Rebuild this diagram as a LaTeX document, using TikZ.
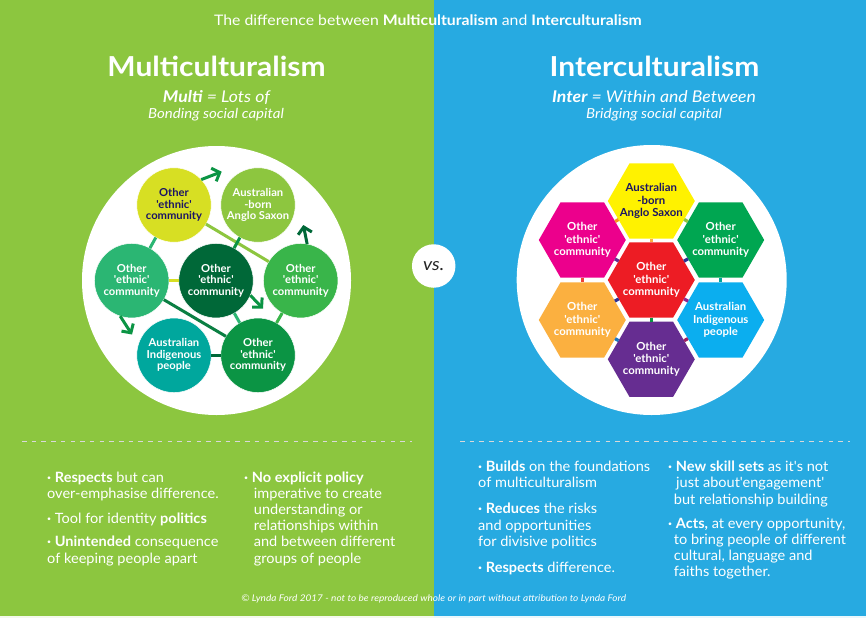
\documentclass[tikz,border=0pt]{standalone}
\usepackage{fontspec}
\usetikzlibrary{shapes.geometric,arrows.meta}
\newfontfamily\lato[FakeStretch=1.09]{Lato}
\newfontfamily\latob[FakeStretch=1.024]{Lato}
\definecolor{bggreen}{HTML}{8CC63F}
\definecolor{bgblue}{HTML}{27AAE1}
\definecolor{navytext}{HTML}{1B1464}
\definecolor{cyellow}{HTML}{D7DF23}
\definecolor{colive}{HTML}{8DC63F}
\definecolor{cteal}{HTML}{2BB673}
\definecolor{cdark}{HTML}{006838}
\definecolor{cmid}{HTML}{39B54A}
\definecolor{ccyan}{HTML}{00A79D}
\definecolor{cgreen}{HTML}{0B9444}
\definecolor{clong}{HTML}{0B7F43}
\definecolor{hyellow}{HTML}{FFF200}
\definecolor{hmagenta}{HTML}{EC008C}
\definecolor{hgreen}{HTML}{00A651}
\definecolor{hred}{HTML}{ED1C24}
\definecolor{horange}{HTML}{FBB040}
\definecolor{hblue}{HTML}{0BAEEF}
\definecolor{hpurple}{HTML}{662D91}
\definecolor{lorange}{HTML}{F7941D}
\definecolor{lnavy}{HTML}{2E3192}
\definecolor{lred}{HTML}{EF4136}
\definecolor{lviolet}{HTML}{92278F}
\definecolor{lblue}{HTML}{1C75BC}
\definecolor{lwine}{HTML}{9E1F63}
\tikzset{
  x=1pt,y=-1pt,
  every node/.append style={font=\lato},
  comm/.style={circle,draw=white,line width=.5pt,fill=#1,minimum size=74.5pt,inner sep=0pt,outer sep=0pt,text=white,align=center,font=\latob\bfseries\fontsize{10.95}{11.5}\selectfont},
  hexa/.style={regular polygon,regular polygon sides=6,fill=#1,minimum size=87pt,inner sep=0pt,outer sep=0pt},
  hextext/.style={text=white,inner sep=0pt,align=center,font=\latob\bfseries\fontsize{11.1}{12.4}\selectfont},
  link/.style={draw=#1,line width=3pt},
  hlink/.style={draw=#1,line width=3.2pt},
  arrowlink/.style={draw=#1,line width=3pt,-{Straight Barb[length=6.5pt,width=14pt,line width=3pt]}},
  body/.style={text=white,anchor=base west,inner sep=0pt,font=\latob\fontsize{14.2}{16.1}\selectfont},
  bigtitle/.style={text=white,inner sep=0pt,font=\lato\bfseries\fontsize{27.5}{30}\selectfont},
  subone/.style={text=white,inner sep=0pt,font=\lato\itshape\fontsize{16.2}{18}\selectfont},
  subtwo/.style={text=white,inner sep=0pt,font=\lato\itshape\fontsize{13.8}{15}\selectfont},
  rulerline/.style={draw=white!85!black,line width=.7pt,dash pattern=on 4.5pt off 5.2pt},
}
\begin{document}
\begin{tikzpicture}
\useasboundingbox (0,0) rectangle (866,618);
\fill[bggreen] (0,0) rectangle (433.5,615.5);
\fill[bgblue] (433.5,0) rectangle (866,615.5);
\fill[white!90!bggreen] (0,615.5) rectangle (433.5,618);
\fill[white!90!bgblue] (433.5,615.5) rectangle (866,618);

\node[text=white,inner sep=0pt,font=\lato\fontsize{14.5}{16}\selectfont] (head) at (428,20) {The difference between \textbf{Multiculturalism} and \textbf{Interculturalism}};
\node[bigtitle] (mt) at (216.5,66) {Multiculturalism};
\node[bigtitle] (it) at (654.5,66) {Interculturalism};
\node[subone] (ms) at (216.5,97) {\textbf{Multi} = Lots of};
\node[subone] (is) at (654,97) {\textbf{Inter} = Within and Between};
\node[subtwo] (mb) at (216,115) {Bonding social capital};
\node[subtwo] (ib) at (654,115) {Bridging social capital};

% left panel
\node[circle,fill=white,minimum size=269pt,inner sep=0pt] (mdisc) at (216.5,280.5) {};
\node[comm=cyellow,text=navytext] (m1) at (174,205) {Other\\'ethnic'\\community};
\node[comm=colive] (m2) at (258,205) {Australian\\-born\\Anglo Saxon};
\node[comm=cteal] (m3) at (131.7,280.7) {Other\\'ethnic'\\community};
\node[comm=cdark] (m4) at (216,280.7) {Other\\'ethnic'\\community};
\node[comm=cmid] (m5) at (300.7,280.7) {Other\\'ethnic'\\community};
\node[comm=ccyan] (m6) at (174,355.3) {Australian\\Indigenous\\people};
\node[comm=cgreen] (m7) at (258,355.3) {Other\\'ethnic'\\community};
\coordinate (a1) at (221.7,171.7);
\coordinate (a2) at (303.3,225);
\coordinate (a3) at (263,308.5);
\coordinate (a4) at (132,334.5);
\draw[link=colive] (m1) -- (m5);
\draw[link=cteal] (m1) -- (m3);
\draw[link=cgreen] (m2) -- (m4);
\draw[link=cyellow] (m3) -- (m4);
\draw[link=cteal] (m4) -- (m7);
\draw[link=cmid] (m5) -- (m7);
\draw[link=clong] (m3) -- (m7);
\draw[link=cdark] (m6) -- (m7);
\draw[arrowlink=cgreen] (m1.43) -- (a1);
\draw[arrowlink=cdark] (m5.80) -- (a2);
\draw[arrowlink=cgreen] (m4.-23) -- (a3);
\draw[arrowlink=cgreen] (m3.-108) -- (a4);

% right panel
\node[circle,fill=white,minimum size=270pt,inner sep=0pt] (idisc) at (651.7,280) {};
\node[hexa=hyellow] (h1) at (651.3,201) {};
\node[hexa=hmagenta] (h2) at (582.3,240) {};
\node[hexa=hgreen] (h3) at (720.7,240) {};
\node[hexa=hred] (h4) at (651.3,280) {};
\node[hexa=horange] (h5) at (582.3,320) {};
\node[hexa=hblue] (h6) at (720.7,320) {};
\node[hexa=hpurple] (h7) at (651.3,359.3) {};
\node[hextext,text=navytext] (t1) at (h1) {Australian\\-born\\Anglo Saxon};
\node[hextext] (t2) at (h2) {Other\\'ethnic'\\community};
\node[hextext] (t3) at (h3) {Other\\'ethnic'\\community};
\node[hextext] (t4) at (h4) {Other\\'ethnic'\\community};
\node[hextext] (t5) at (h5) {Other\\'ethnic'\\community};
\node[hextext] (t6) at (h6) {Australian\\Indigenous\\people};
\node[hextext] (t7) at (h7) {Other\\'ethnic'\\community};
\draw[hlink=horange] (h1) -- (h4);
\draw[hlink=lorange] (h1) -- (h2);
\draw[hlink=colive] (h1) -- (h3);
\draw[hlink=hpurple] (h2) -- (h4);
\draw[hlink=lnavy] (h3) -- (h4);
\draw[hlink=lred] (h2) -- (h5);
\draw[hlink=ccyan] (h3) -- (h6);
\draw[hlink=lnavy] (h4) -- (h5);
\draw[hlink=lviolet] (h4) -- (h6);
\draw[hlink=cgreen] (h4) -- (h7);
\draw[hlink=lblue] (h5) -- (h7);
\draw[hlink=lwine] (h6) -- (h7);

% vs
\node[circle,fill=white,minimum size=43.5pt,inner sep=0pt,text=black!85,font=\lato\itshape\fontsize{17.5}{18}\selectfont] (vs) at (433.7,266) {vs.};

% rules
\coordinate (r1) at (22,441.7);
\coordinate (r2) at (412,441.7);
\coordinate (r3) at (460,441.7);
\coordinate (r4) at (850,441.7);
\draw[rulerline] (r1) -- (r2);
\draw[rulerline] (r3) -- (r4);

% left text
\node[body] (l1) at (47,482) {\textbf{·} \textbf{Respects} but can};
\node[body] (l1b) at (47,498) {over-emphasise difference.};
\node[body] (l2) at (47,523.3) {\textbf{·} Tool for identity \textbf{politics}};
\node[body] (l3) at (47,546.7) {\textbf{·} \textbf{Unintended} consequence};
\node[body] (l3b) at (47,563) {of keeping people apart};
\node[body] (l4) at (244,482) {\textbf{·} \textbf{No explicit policy}};
\node[body] (l5) at (253.7,498) {imperative to create};
\node[body] (l6) at (253.7,514) {understanding or};
\node[body] (l7) at (253.7,530) {relationships within};
\node[body] (l8) at (253.7,546.5) {and between different};
\node[body] (l9) at (253.7,563) {groups of people};

% right text
\node[body] (b1) at (478,471) {\textbf{·} \textbf{Builds} on the foundations};
\node[body] (b1b) at (478,487.7) {of multiculturalism};
\node[body] (b2) at (478,513) {\textbf{·} \textbf{Reduces} the risks};
\node[body] (b2b) at (478,530) {and opportunities};
\node[body] (b2c) at (478,546) {for divisive politics};
\node[body] (b3) at (478,572.7) {\textbf{·} \textbf{Respects} difference.};
\node[body] (b4) at (668,471) {\textbf{·} \textbf{New skill sets} as it's not};
\node[body] (b5) at (676,487.7) {just about'engagement'};
\node[body] (b6) at (673.7,504) {but relationship building};
\node[body] (b7) at (668,528) {\textbf{·} \textbf{Acts,} at every opportunity,};
\node[body] (b8) at (673.7,544.7) {to bring people of different};
\node[body] (b9) at (673.7,560.7) {cultural, language and};
\node[body] (b10) at (673.7,576.7) {faiths together.};

\node[text=white,inner sep=0pt,font=\lato\itshape\fontsize{9.2}{11}\selectfont] (copy) at (433.7,599) {© Lynda Ford 2017 - not to be reproduced whole or in part without attribution to Lynda Ford};
\end{tikzpicture}
\end{document}
